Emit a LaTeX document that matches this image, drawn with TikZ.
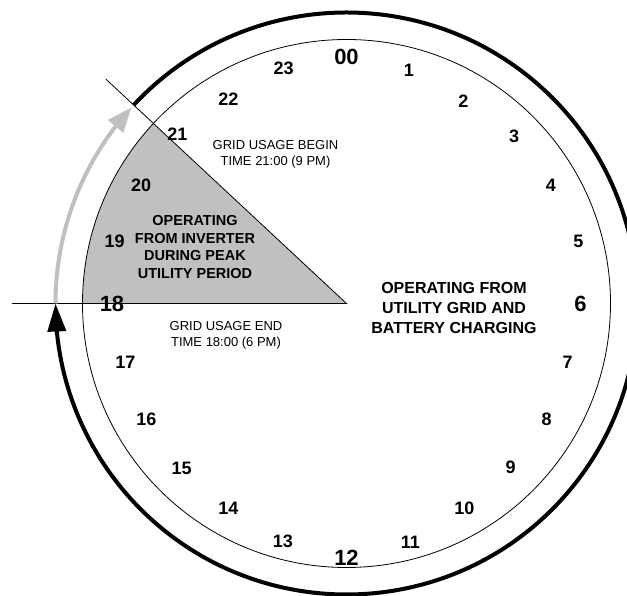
\documentclass[tikz,border=0pt]{standalone}
\usepackage{fontspec}
\setmainfont{Liberation Sans}
\usetikzlibrary{arrows.meta,bending}
\definecolor{peakgray}{HTML}{C0C0C0}

\begin{document}
\begin{tikzpicture}[
  x=1pt, y=1pt,
  hour/.style={font=\fontsize{18}{18}\selectfont\bfseries, inner sep=0pt},
  bighour/.style={font=\fontsize{22}{22}\selectfont\bfseries, inner sep=0pt},
  note/.style={align=center, font=\fontsize{13}{16}\selectfont},
  zone/.style={align=center, font=\fontsize{14.5}{17.5}\selectfont\bfseries},
  ring/.style={line width=4pt},
  thinline/.style={line width=0.8pt}
]
\useasboundingbox (-346.5,-292.5) rectangle (280.5,303.5);
% key points
\coordinate (c) at (0,0);
\coordinate (endL) at (180:334.5);
\coordinate (beginL) at (137:329);
% peak period sector
\fill[peakgray] (c) -- (180:264) arc[start angle=180, end angle=137, radius=264] -- cycle;
\draw[thinline] (c) circle[radius=264];
\draw[thinline] (endL) -- (c) -- (beginL);
% outer ring
\draw[ring, -{Triangle[length=28pt,width=18pt]}] (137:291) arc[start angle=137, end angle=-180, radius=291];
\draw[ring, peakgray, -{Triangle[length=25pt,width=19pt]}] (180:291) arc[start angle=180, end angle=137.6, radius=291];
% hours
\foreach \h/\r in {1/241, 2/234, 3/237, 4/236, 5/240, 7/229, 8/231, 9/232,
                   10/236, 11/247, 13/246, 14/236, 15/233, 16/231, 17/229,
                   19/240, 20/237, 21/239, 22/236, 23/243}
  \node[hour] (h\h) at ({90-15*\h}:\r) {\h};
\node[bighour] (h0) at (90:246.5) {00};
\node[bighour] (h6) at (0:234) {6};
\node[bighour] (h12) at (-90:254) {12};
\node[bighour] (h18) at (180:234.5) {18};
% labels
\node[note] (begin) at (-71,149) {GRID USAGE BEGIN\\TIME 21:00 (9 PM)};
\node[note] (end) at (-120.5,-32.3) {GRID USAGE END\\TIME 18:00 (6 PM)};
\node[zone] (inverter) at (-151.5,56.7) {OPERATING\\FROM INVERTER\\DURING PEAK\\UTILITY PERIOD};
\node[zone, font=\fontsize{16}{20}\selectfont\bfseries] (utility) at (107.5,-4.8) {OPERATING FROM\\UTILITY GRID AND\\BATTERY CHARGING};
\end{tikzpicture}
\end{document}
